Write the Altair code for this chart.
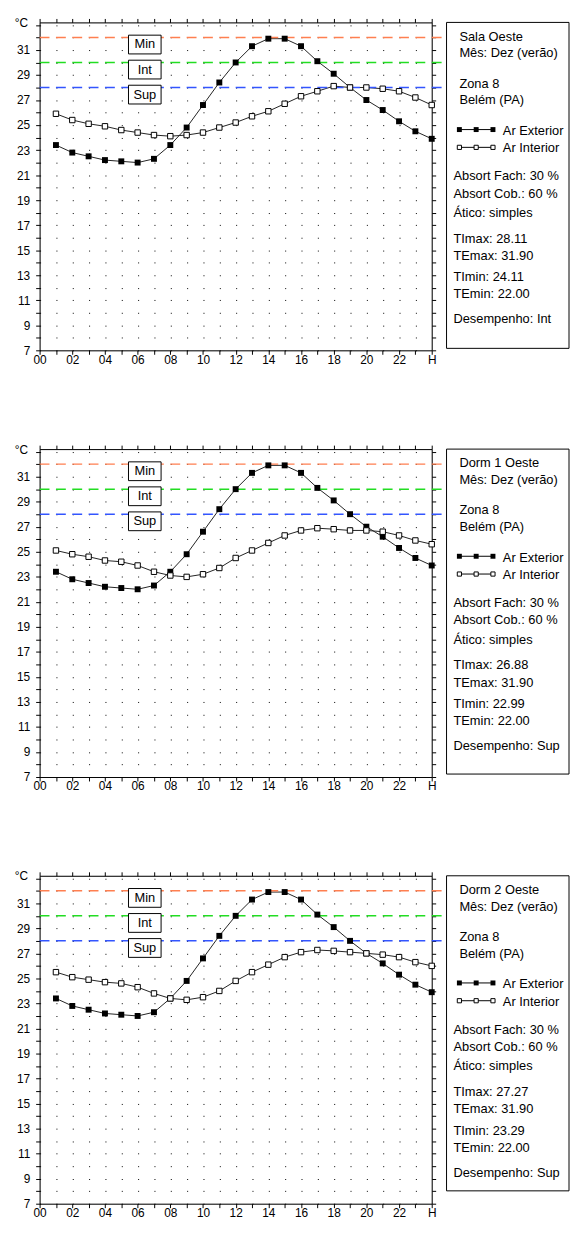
import altair as alt
import pandas as pd

# ---------------- data ----------------
hours = list(range(1, 25))
ext = [23.4, 22.8, 22.5, 22.2, 22.1, 22.0, 22.3, 23.4, 24.8, 26.6, 28.4, 30.0,
       31.3, 31.9, 31.9, 31.3, 30.1, 29.1, 28.0, 27.0, 26.2, 25.3, 24.5, 23.9]
int_sala = [25.9, 25.4, 25.1, 24.9, 24.6, 24.4, 24.2, 24.11, 24.2, 24.4, 24.8, 25.2,
            25.7, 26.1, 26.7, 27.3, 27.7, 28.11, 28.0, 28.0, 27.9, 27.7, 27.2, 26.6]
int_dorm1 = [25.1, 24.8, 24.6, 24.3, 24.2, 23.9, 23.4, 23.1, 22.99, 23.2, 23.7, 24.5,
             25.1, 25.7, 26.3, 26.7, 26.88, 26.8, 26.7, 26.7, 26.6, 26.3, 25.9, 25.6]
int_dorm2 = [25.5, 25.1, 24.9, 24.7, 24.6, 24.3, 23.8, 23.4, 23.29, 23.5, 24.0, 24.8,
             25.5, 26.1, 26.7, 27.1, 27.27, 27.2, 27.1, 27.0, 26.9, 26.7, 26.3, 26.0]

room_names = ["Sala Oeste", "Dorm 1 Oeste", "Dorm 2 Oeste"]
interiors = [int_sala, int_dorm1, int_dorm2]
ti_max = ["28.11", "26.88", "27.27"]
ti_min = ["24.11", "22.99", "23.29"]
te_max = "31.90"
te_min = "22.00"
desempenho = ["Int", "Sup", "Sup"]

thr_values = [32, 30, 28]
thr_labels = ["Min", "Int", "Sup"]
thr_colors = ["#FF7F50", "#22DD22", "#3355FF"]

x_ticks = list(range(0, 25))
y_ticks = list(range(7, 34))

# ---------------- style ----------------
FONT = "Liberation Sans"
W, H = 397, 332
ROW_GAP = 100
BOX_W = 124
BOX_H = [330, 329, 319]
HOUR_PX = W / 24.0

xscale = alt.Scale(domain=[0, 24], nice=False, zero=False)
yscale = alt.Scale(domain=[7, 33.2], nice=False, zero=False)

common_axis = dict(domainColor="black", tickColor="black", labelColor="black",
                   labelFont=FONT, labelFontSize=12, tickSize=4, labelOverlap=False,
                   labelFlush=False)

ax_bottom = alt.Axis(orient="bottom", values=x_ticks, title=None, grid=False,
                     labelPadding=0,
                     labelExpr="datum.value == 24 ? 'H' : (datum.value % 2 == 0 ? "
                               "(datum.value < 10 ? '0' + datum.value : '' + datum.value) : '')",
                     **common_axis)
ax_top = alt.Axis(orient="top", values=x_ticks, title=None, grid=False, labels=False,
                  **common_axis)
ax_left = alt.Axis(orient="left", values=y_ticks, grid=True, gridColor="black",
                   gridOpacity=1, gridWidth=1, gridDash=[1, HOUR_PX - 1],
                   labelPadding=6,
                   labelExpr="(datum.value % 2 == 1 && datum.value < 33) ? datum.label : ''",
                   title="°C", titleAngle=0, titleX=-19, titleY=0, titleAlign="center",
                   titleBaseline="middle", titleFont=FONT, titleFontSize=12,
                   titleFontWeight="normal", titleColor="black",
                   **common_axis)
ax_right = alt.Axis(orient="right", values=y_ticks, title=None, grid=False, labels=False,
                    **common_axis)

EMPTY = alt.Data(values=[{}])


def plot_panel(i):
    df = pd.DataFrame({
        "h": hours * 2,
        "t": ext + interiors[i],
        "s": ["Ar Exterior"] * 24 + ["Ar Interior"] * 24,
    })
    thr = pd.DataFrame({"v": thr_values, "lab": thr_labels, "c": thr_colors})

    lines = alt.Chart(df).mark_line(color="#222222", strokeWidth=1).encode(
        x=alt.X("h:Q", scale=xscale, axis=ax_bottom),
        y=alt.Y("t:Q", scale=yscale, axis=ax_left),
        detail="s:N",
    )
    rules = alt.Chart(thr).mark_rule(strokeWidth=1.5, strokeDash=[10, HOUR_PX - 10]).encode(
        x=alt.value(0), x2=alt.value(W + 10),
        y=alt.Y("v:Q", scale=yscale, axis=None),
        color=alt.Color("c:N", scale=None),
    )
    boxes = alt.Chart(thr).mark_rect(fill="white", stroke="black", strokeWidth=1,
                                     yOffset=-2.3, y2Offset=16.7).encode(
        x=alt.value(90), x2=alt.value(123),
        y=alt.Y("v:Q", scale=yscale, axis=None), y2=alt.Y2("v:Q"),
    )
    labels = alt.Chart(thr).mark_text(font=FONT, fontSize=13, align="center",
                                      baseline="middle", dy=7.2, color="black").encode(
        x=alt.value(106.5),
        y=alt.Y("v:Q", scale=yscale, axis=None),
        text="lab:N",
    )
    pts_ext = alt.Chart(df).transform_filter(alt.datum.s == "Ar Exterior").mark_point(
        shape="square", filled=True, color="black", size=36, opacity=1).encode(
        x=alt.X("h:Q", scale=xscale, axis=ax_top),
        y=alt.Y("t:Q", scale=yscale, axis=ax_right),
    )
    pts_int = alt.Chart(df).transform_filter(alt.datum.s == "Ar Interior").mark_point(
        shape="square", filled=True, fill="white", stroke="black", strokeWidth=1,
        size=30, opacity=1).encode(
        x=alt.X("h:Q", scale=xscale, axis=None),
        y=alt.Y("t:Q", scale=yscale, axis=None),
    )
    return alt.layer(lines, rules, boxes, labels, pts_ext, pts_int).resolve_axis(
        x="independent", y="independent").properties(width=W, height=H)


def text_layer(txt, x, y):
    return alt.Chart(EMPTY).mark_text(text=txt, align="left", baseline="middle",
                                      font=FONT, fontSize=13, color="black").encode(
        x=alt.value(x), y=alt.value(y))


def info_panel(i):
    rows = [
        (room_names[i], 13, 14.5),
        ("Mês: Dez (verão)", 13, 31.5),
        ("Zona 8", 13, 62),
        ("Belém (PA)", 13, 79),
        ("Ar Exterior", 57, 110),
        ("Ar Interior", 57, 127.5),
        ("Absort Fach: 30 %", 7, 156),
        ("Absort Cob.: 60 %", 7, 173.5),
        ("Ático: simples", 7, 193),
        ("TImax: " + ti_max[i], 7, 219),
        ("TEmax: " + te_max, 7, 236.5),
        ("TImin: " + ti_min[i], 7, 258),
        ("TEmin: " + te_min, 7, 275.5),
        ("Desempenho: " + desempenho[i], 7, 300.5),
    ]
    frame = alt.Chart(EMPTY).mark_rect(fill="white", stroke="black", strokeWidth=1).encode(
        x=alt.value(0), x2=alt.value(BOX_W), y=alt.value(0), y2=alt.value(BOX_H[i]))
    layers = [frame] + [text_layer(t, x, y) for t, x, y in rows]
    # legend symbols
    for y, filled in [(108.5, True), (126.5, False)]:
        layers.append(alt.Chart(EMPTY).mark_rule(color="black", strokeWidth=1).encode(
            x=alt.value(13), x2=alt.value(47), y=alt.value(y)))
        for xx in [13, 30, 47]:
            if filled:
                m = alt.Chart(EMPTY).mark_point(shape="square", filled=True, color="black",
                                                size=25, opacity=1)
            else:
                m = alt.Chart(EMPTY).mark_point(shape="square", filled=True, fill="white",
                                                stroke="black", strokeWidth=1, size=18,
                                                opacity=1)
            layers.append(m.encode(x=alt.value(xx), y=alt.value(y)))
    return alt.layer(*layers).properties(width=BOX_W, height=BOX_H[i],
                                         view=alt.ViewBackground(stroke=None))


charts = []
for i in range(3):
    charts.append(plot_panel(i))
    charts.append(info_panel(i))

chart = alt.concat(*charts, columns=2, spacing=alt.RowColnumber(row=ROW_GAP, column=15),
                   bounds="flush", align="each").properties(
    padding={"left": 5, "top": 0, "right": 0, "bottom": 0},
    background="white",
).configure_view(stroke="black", strokeWidth=1).configure(font=FONT)

chart.save("out.html", embed_options={"renderer": "svg", "actions": False})
